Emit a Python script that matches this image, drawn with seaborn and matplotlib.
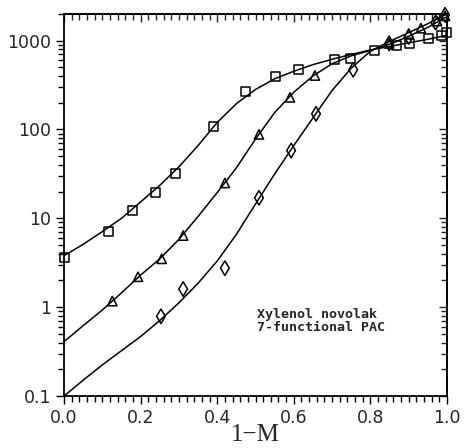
import matplotlib
matplotlib.use("Agg")
import matplotlib.pyplot as plt
import seaborn as sns
import pandas as pd
import numpy as np
from matplotlib.ticker import FixedLocator, LogLocator, NullFormatter, FixedFormatter, MultipleLocator

# measured data points
sq_x = [0.0, 0.115, 0.18, 0.238, 0.292, 0.39, 0.473, 0.553, 0.613, 0.705, 0.747, 0.81, 0.867, 0.903, 0.953, 0.985, 0.998]
sq_y = [3.6, 7.1, 12.3, 19.6, 32, 108, 268, 395, 470, 615, 625, 770, 880, 930, 1050, 1150, 1250]

tri_x = [0.126, 0.193, 0.255, 0.311, 0.42, 0.509, 0.59, 0.655, 0.849, 0.90, 0.932, 0.974, 0.995]
tri_y = [1.17, 2.2, 3.5, 6.4, 25, 88, 230, 405, 930, 1200, 1380, 1660, 1900]

dia_x = [0.253, 0.311, 0.42, 0.509, 0.593, 0.658, 0.755, 0.849, 0.90, 0.97, 0.995]
dia_y = [0.79, 1.6, 2.75, 17, 58, 150, 470, 930, 1100, 1600, 1950]

# fitted curves
fit_x = [0.0, 0.05, 0.1, 0.15, 0.2, 0.25, 0.3, 0.35, 0.4, 0.45, 0.5,
         0.55, 0.6, 0.65, 0.7, 0.75, 0.8, 0.85, 0.9, 0.95, 1.0]
fit_sq = [3.8, 5.1, 7.1, 10.0, 15.3, 23.5, 38, 66, 120, 195, 282,
          372, 452, 537, 617, 700, 785, 860, 945, 1035, 1150]
fit_tri = [0.41, 0.62, 0.93, 1.45, 2.3, 3.5, 5.8, 10.5, 19.5, 37, 78,
           155, 263, 400, 550, 675, 775, 910, 1120, 1410, 1860]
fit_dia = [0.1, 0.151, 0.224, 0.324, 0.468, 0.708, 1.12, 1.86, 3.31, 6.6, 14.5,
           31.6, 66, 135, 275, 490, 760, 980, 1230, 1550, 2000]

yticks = [0.1, 1, 10, 100, 1000]
ytick_labels = ["0.1", "1", "10", "100", "1000"]
xticks = [0.0, 0.2, 0.4, 0.6, 0.8, 1.0]
xtick_labels = ["0.0", "0.2", "0.4", "0.6", "0.8", "1.0"]
annotation = "Xylenol novolak\n7-functional PAC"
xlabel = "1\u2212M"

sns.set_style("ticks")
plt.rcParams['font.family'] = ['DejaVu Sans']

fig = plt.figure(figsize=(4.71, 4.48), dpi=100)
ax = fig.add_axes([0.136, 0.116, 0.813, 0.853])

curves = pd.concat([
    pd.DataFrame({"x": fit_x, "y": fit_sq, "s": "sq"}),
    pd.DataFrame({"x": fit_x, "y": fit_tri, "s": "tri"}),
    pd.DataFrame({"x": fit_x, "y": fit_dia, "s": "dia"}),
])
sns.lineplot(data=curves, x="x", y="y", units="s", estimator=None, color="black",
             lw=1.1, ax=ax, sort=True)

for xs, ys, m, sz in [(sq_x, sq_y, "s", 42), (tri_x, tri_y, "^", 45), (dia_x, dia_y, "d", 55)]:
    sns.scatterplot(x=xs, y=ys, marker=m, s=sz, facecolor="none", edgecolor="black",
                    linewidth=1.1, ax=ax, zorder=3, clip_on=False)

ax.set_yscale("log")
ax.set_xlim(0, 1.0)
ax.set_ylim(0.1, 2000)

ax.xaxis.set_major_locator(FixedLocator(xticks))
ax.xaxis.set_major_formatter(FixedFormatter(xtick_labels))
ax.xaxis.set_minor_locator(MultipleLocator(0.02))
ax.yaxis.set_major_locator(FixedLocator(yticks))
ax.yaxis.set_major_formatter(FixedFormatter(ytick_labels))
ax.yaxis.set_minor_locator(LogLocator(base=10, subs=np.arange(2, 10)))
ax.yaxis.set_minor_formatter(NullFormatter())

ax.tick_params(which="both", direction="out", color="black", width=1)
ax.tick_params(which="major", length=6, labelsize=12.5, pad=3)
ax.tick_params(which="minor", length=4)

# top and right axes with inward ticks
top = ax.secondary_xaxis("top")
top.xaxis.set_major_locator(FixedLocator(xticks))
top.xaxis.set_minor_locator(MultipleLocator(0.02))
top.tick_params(which="both", direction="in", labeltop=False, width=1)
top.tick_params(which="major", length=6)
top.tick_params(which="minor", length=4)
right = ax.secondary_yaxis("right")
right.yaxis.set_major_locator(FixedLocator(yticks))
right.yaxis.set_minor_locator(LogLocator(base=10, subs=np.arange(2, 10)))
right.yaxis.set_minor_formatter(NullFormatter())
right.tick_params(which="both", direction="in", labelright=False, width=1)
right.tick_params(which="major", length=6)
right.tick_params(which="minor", length=4)
for sec in (top, right):
    for sp in sec.spines.values():
        sp.set_linewidth(1.3)

for spine in ax.spines.values():
    spine.set_visible(True)
    spine.set_linewidth(1.3)
    spine.set_color("black")

ax.set_xlabel(xlabel, fontsize=18, family="Liberation Serif", labelpad=-2)
ax.set_ylabel("")
ax.text(0.504, 0.70, annotation, fontsize=9.6, family="DejaVu Sans Mono",
        fontweight="bold", va="center", ha="left", linespacing=1.0)

fig.savefig("out.png", dpi=100, facecolor="white")
